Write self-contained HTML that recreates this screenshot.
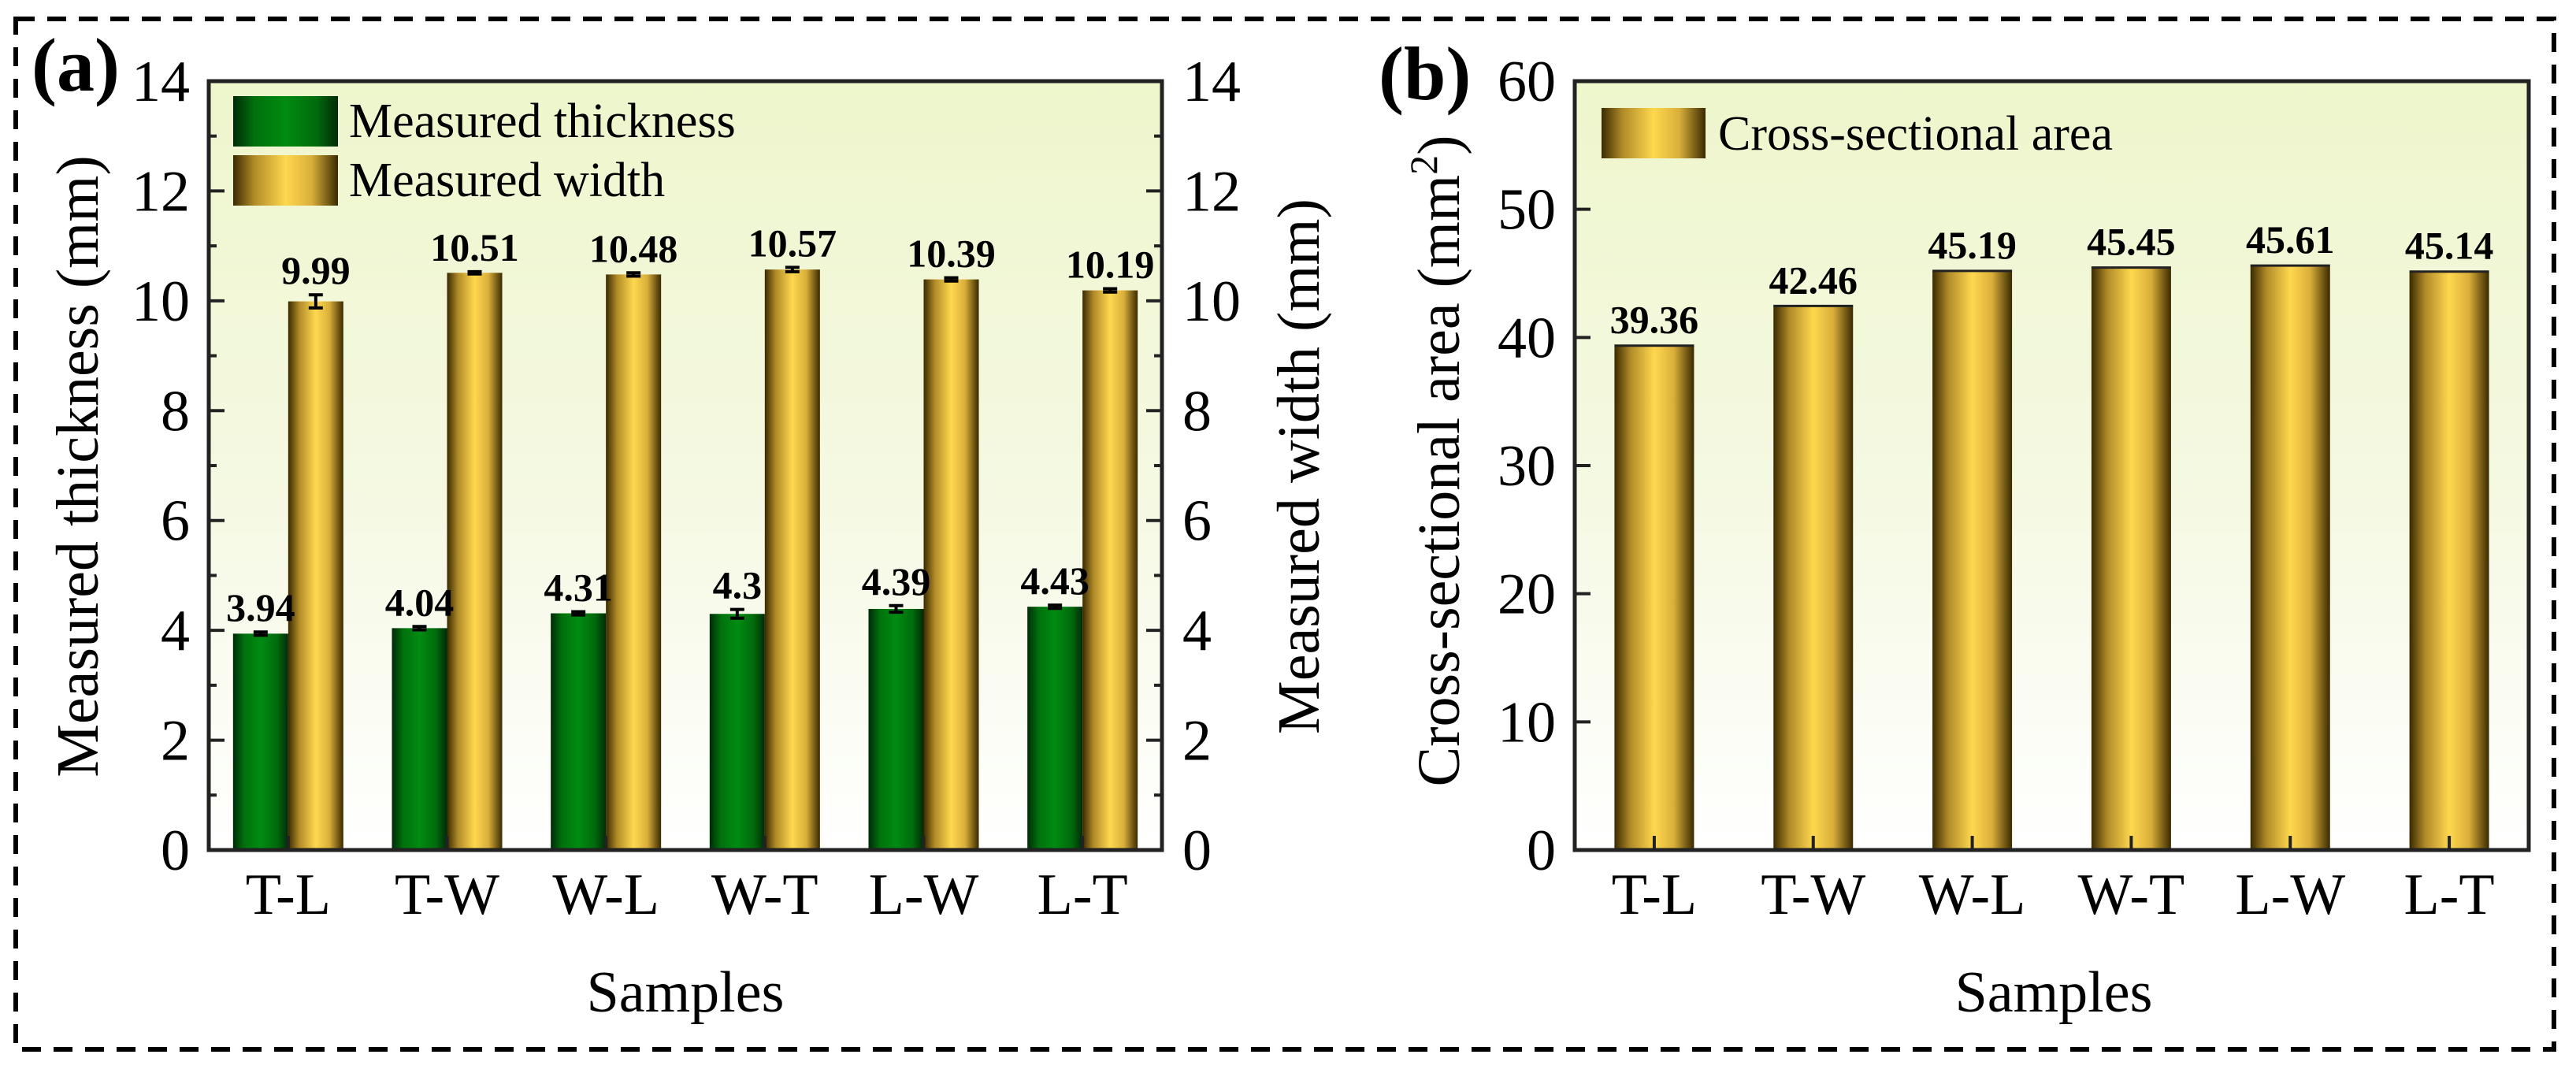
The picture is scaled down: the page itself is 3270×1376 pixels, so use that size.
<!DOCTYPE html>
<html><head><meta charset="utf-8"><style>
html,body{margin:0;padding:0;background:#fff}
svg, svg text{font-family:"Liberation Serif","DejaVu Serif",serif}
</style></head><body>
<svg id="fig" width="3270" height="1371" viewBox="0 0 3270 1371" xmlns="http://www.w3.org/2000/svg" font-family="Liberation Serif, DejaVu Serif, serif">
<defs>
<linearGradient id="bg" x1="0" y1="0" x2="0" y2="1"><stop offset="0" stop-color="#eef6cc"/><stop offset="0.55" stop-color="#f5f9e3"/><stop offset="1" stop-color="#ffffff"/></linearGradient>
<linearGradient id="gold" x1="0" y1="0" x2="1" y2="0"><stop offset="0" stop-color="#3a2a00"/><stop offset="0.2" stop-color="#b08a28"/><stop offset="0.5" stop-color="#ffd84e"/><stop offset="0.75" stop-color="#d9ae3a"/><stop offset="1" stop-color="#3a2a00"/></linearGradient>
<linearGradient id="green" x1="0" y1="0" x2="1" y2="0"><stop offset="0" stop-color="#002a08"/><stop offset="0.2" stop-color="#00700c"/><stop offset="0.5" stop-color="#008c12"/><stop offset="0.8" stop-color="#006a0c"/><stop offset="1" stop-color="#002a08"/></linearGradient>
</defs>
<rect x="20" y="24" width="3222" height="1308" fill="none" stroke="#000" stroke-width="6" stroke-dasharray="24,16"/>
<g id="pa"></g>
<g id="pb"></g>
</svg>
<script>
const categories = ["T-L","T-W","W-L","W-T","L-W","L-T"];
const thickness = [3.94,4.04,4.31,4.30,4.39,4.43];
const thicknessErr = [0.03,0.03,0.03,0.08,0.06,0.03];
const thicknessLabels = ["3.94","4.04","4.31","4.3","4.39","4.43"];
const widthVals = [9.99,10.51,10.48,10.57,10.39,10.19];
const widthErr = [0.12,0.02,0.03,0.04,0.03,0.03];
const widthLabels = ["9.99","10.51","10.48","10.57","10.39","10.19"];
const area = [39.36,42.46,45.19,45.45,45.61,45.14];
const areaLabels = ["39.36","42.46","45.19","45.45","45.61","45.14"];
const ticksA = [0,2,4,6,8,10,12,14];
const ticksB = [0,10,20,30,40,50,60];

const NS="http://www.w3.org/2000/svg";
const FONT="Liberation Serif, DejaVu Serif, serif";
function mk(parent,tag,attrs,text){const e=document.createElementNS(NS,tag);if(tag==='text')e.setAttribute('font-family',FONT);for(const k in attrs)e.setAttribute(k,attrs[k]);if(text!==undefined)e.textContent=text;parent.appendChild(e);return e;}

function axes(g,L,R,T,B,ymax){
  const ys=v=>B-(v/ymax)*(B-T);
  const bg=mk(g,'rect',{x:L,y:T,width:R-L,height:B-T,fill:'url(#bg)'});
  
  
  return ys;
}
function frame(g,L,R,T,B,ymax,ticks,minorStep,right,ys){
  const f=mk(g,'rect',{x:L,y:T,width:R-L,height:B-T,fill:'none',stroke:'#222',"stroke-width":5});
  
  
  for(let v=0;v<=ymax+1e-9;v+=minorStep){
    const major=ticks.some(t=>Math.abs(t-v)<1e-9);
    const len=major?20:10;
    mk(g,'line',{x1:L,x2:L+len,y1:ys(v),y2:ys(v),stroke:'#222',"stroke-width":4});
    if(right) mk(g,'line',{x1:R,x2:R-len,y1:ys(v),y2:ys(v),stroke:'#222',"stroke-width":4});
  }
  ticks.forEach(t=>{
    const tl=mk(g,'text',{x:L-24,y:ys(t)+25,"font-size":74,"text-anchor":"end"},String(t));
    
    
    if(right){
      const tr=mk(g,'text',{x:R+26,y:ys(t)+25,"font-size":74,"text-anchor":"start"},String(t));
      
      
    }
  });
}

// Panel A
(function(){
  const g=document.getElementById('pa');
  const L=265,R=1475,T=103,B=1079,ymax=14;
  const ys=axes(g,L,R,T,B,ymax);
  const band=(R-L)/categories.length;
  const bw=70;
  categories.forEach((c,i)=>{
    const cx=L+band*(i+0.5);
    const gy=ys(thickness[i]);
    const gb=mk(g,'rect',{x:cx-bw,y:gy,width:bw,height:B-gy,fill:'url(#green)'});
    
    
    const wy=ys(widthVals[i]);
    const wb=mk(g,'rect',{x:cx,y:wy,width:bw,height:B-wy,fill:'url(#gold)'});
    
    
    [[cx-bw/2,thickness[i],thicknessErr[i],thicknessLabels[i],'thickness'],[cx+bw/2,widthVals[i],widthErr[i],widthLabels[i],'width']].forEach(([x,v,e,lab,n])=>{
      const eb=mk(g,'path',{d:`M${x-9},${ys(v+e)}H${x+9}M${x},${ys(v+e)}V${ys(v-e)}M${x-9},${ys(v-e)}H${x+9}`,stroke:'#000',"stroke-width":4,fill:'none'});
      
      
      const vl=mk(g,'text',{x:x,y:ys(v+e)-14,"font-size":50,"font-weight":"bold","text-anchor":"middle"},lab);
      
      
    });
    mk(g,'line',{x1:cx,x2:cx,y1:B,y2:B-18,stroke:'#222',"stroke-width":4});
    const xl=mk(g,'text',{x:cx,y:1160,"font-size":74,"text-anchor":"middle"},c);
    
    
  });
  frame(g,L,R,T,B,ymax,ticksA,1,true,ys);
  const s1=mk(g,'rect',{x:296,y:122,width:133,height:64,fill:'url(#green)'});
  
  
  const t1=mk(g,'text',{x:443,y:174,"font-size":62},'Measured thickness');
  
  
  const s2=mk(g,'rect',{x:296,y:197,width:133,height:64,fill:'url(#gold)'});
  
  
  const t2=mk(g,'text',{x:443,y:249,"font-size":62},'Measured width');
  
  
  const pl=mk(g,'text',{x:40,y:115,"font-size":96,"font-weight":"bold"},'(a)');
  
  
  const yt=mk(g,'text',{x:0,y:0,"font-size":76,"text-anchor":"middle",transform:'translate(124,592) rotate(-90)'},'Measured thickness (mm)');
  
  
  const yt2=mk(g,'text',{x:0,y:0,"font-size":76,"text-anchor":"middle",transform:'translate(1674,592) rotate(-90)'},'Measured width (mm)');
  
  
  const xt=mk(g,'text',{x:870,y:1284,"font-size":74,"text-anchor":"middle"},'Samples');
  
  
})();

// Panel B
(function(){
  const g=document.getElementById('pb');
  const L=1999,R=3210,T=103,B=1079,ymax=60;
  const ys=axes(g,L,R,T,B,ymax);
  const band=(R-L)/categories.length;
  const bw=101;
  categories.forEach((c,i)=>{
    const cx=L+band*(i+0.5);
    const y=ys(area[i]);
    const b=mk(g,'rect',{x:cx-bw/2,y:y,width:bw,height:B-y,fill:'url(#gold)'});
    
    
    mk(g,'line',{x1:cx-bw/2,x2:cx+bw/2,y1:y,y2:y,stroke:'#222',"stroke-width":3});
    const vl=mk(g,'text',{x:cx,y:y-16,"font-size":50,"font-weight":"bold","text-anchor":"middle"},areaLabels[i]);
    
    
    mk(g,'line',{x1:cx,x2:cx,y1:B,y2:B-18,stroke:'#222',"stroke-width":4});
    const xl=mk(g,'text',{x:cx,y:1160,"font-size":74,"text-anchor":"middle"},c);
    
    
  });
  frame(g,L,R,T,B,ymax,ticksB,10,false,ys);
  const s=mk(g,'rect',{x:2033,y:137,width:132,height:64,fill:'url(#gold)'});
  
  
  const t=mk(g,'text',{x:2181,y:190,"font-size":62},'Cross-sectional area');
  
  
  const pl=mk(g,'text',{x:1750,y:126,"font-size":96,"font-weight":"bold"},'(b)');
  
  
  const yt=mk(g,'text',{x:0,y:0,"font-size":76,"text-anchor":"middle",transform:'translate(1852,585) rotate(-90)'});
  
  
  mk(yt,'tspan',{},'Cross-sectional area (mm');
  mk(yt,'tspan',{dy:-28,"font-size":50},'2');
  mk(yt,'tspan',{dy:28},')');
  const xt=mk(g,'text',{x:2607,y:1284,"font-size":74,"text-anchor":"middle"},'Samples');
  
  
})();
</script>
</body></html>
